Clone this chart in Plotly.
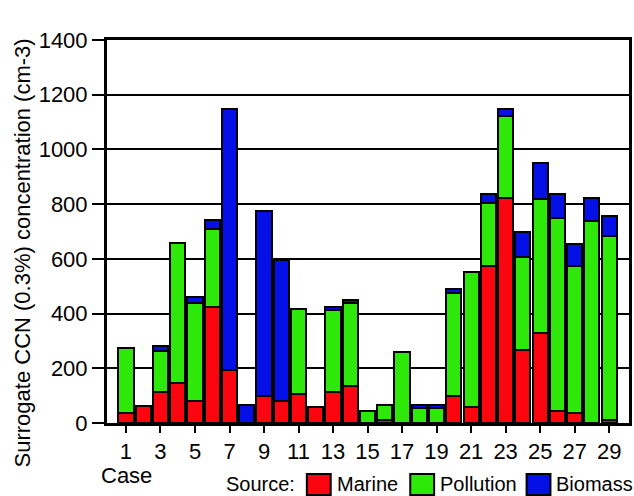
import plotly.graph_objects as go

cases = list(range(1, 30))
marine = [35, 62, 115, 145, 82, 425, 194, 0, 99, 82, 106, 57, 115, 135, 0,
          10, 0, 0, 0, 99, 60, 574, 821, 267, 328, 44, 35, 0, 10]
pollution = [238, 0, 150, 512, 358, 283, 0, 0, 0, 0, 309, 0, 298, 305, 44,
             56, 258, 54, 54, 377, 491, 231, 302, 338, 490, 704, 539, 739, 673]
biomass = [0, 0, 18, 0, 22, 34, 952, 66, 676, 514, 0, 0, 12, 10, 0,
           0, 0, 12, 12, 13, 0, 32, 23, 94, 131, 89, 79, 82, 74]

series_names = ["Marine", "Pollution", "Biomass"]
series_colors = ["#fa0510", "#2ee80a", "#0510e6"]
series_values = [marine, pollution, biomass]

x_ticks = list(range(1, 30, 2))
y_ticks = list(range(0, 1401, 200))

FONT = "Liberation Sans, Arial, sans-serif"

fig = go.Figure()
for name, color, vals in zip(series_names, series_colors, series_values):
    fig.add_trace(go.Bar(
        x=cases, y=vals, name=name,
        marker=dict(color=color, line=dict(color="black", width=2)),
        width=0.88, showlegend=False,
    ))

W, H = 634, 496
L, R, T, B = 107, 2, 40, 73
pw, ph = W - L - R, H - T - B

def px(xp):
    return (xp - L) / pw

def py(yp):
    return (H - B - yp) / ph

fig.update_layout(
    barmode="stack",
    width=W, height=H,
    margin=dict(l=L, r=R, t=T, b=B, pad=0),
    paper_bgcolor="white", plot_bgcolor="white",
    font=dict(family=FONT, color="black", size=22),
    bargap=0.1,
)
fig.update_xaxes(
    range=[-0.1, 30.15], tickvals=x_ticks, ticktext=[str(v) for v in x_ticks],
    showgrid=False, zeroline=False,
    showline=True, linecolor="black", linewidth=3, mirror=True,
    ticks="outside", ticklen=7, tickwidth=2, tickcolor="black",
    tickfont=dict(size=22, family=FONT),
)
fig.update_yaxes(
    range=[0, 1400], tickvals=y_ticks,
    showgrid=True, gridcolor="black", gridwidth=1.5, zeroline=False,
    showline=True, linecolor="black", linewidth=3, mirror=True,
    ticks="outside", ticklen=12, tickwidth=2, tickcolor="black",
    tickfont=dict(size=22, family=FONT),
)

ann = []
ann.append(dict(text="Surrogate CCN (0.3%) concentration (cm-3)", textangle=-90,
                xref="paper", yref="paper", x=px(22), y=py(253),
                xanchor="center", yanchor="middle", showarrow=False,
                font=dict(size=22, family=FONT)))
ann.append(dict(text="Case", xref="paper", yref="paper", x=px(99), y=py(476),
                xanchor="left", yanchor="middle", showarrow=False,
                font=dict(size=22, family=FONT)))
ann.append(dict(text="Source:", xref="paper", yref="paper", x=px(298), y=py(484),
                xanchor="right", yanchor="middle", showarrow=False,
                font=dict(size=20, family=FONT)))

shapes = []
sw_x = [308, 412, 529]
for name, color, sx in zip(series_names, series_colors, sw_x):
    shapes.append(dict(type="rect", xref="paper", yref="paper",
                       x0=px(sx), x1=px(sx + 24), y0=py(495), y1=py(474),
                       fillcolor=color, line=dict(color="black", width=2)))
    ann.append(dict(text=name, xref="paper", yref="paper", x=px(sx + 28), y=py(484),
                    xanchor="left", yanchor="middle", showarrow=False,
                    font=dict(size=20, family=FONT)))

fig.update_layout(annotations=ann, shapes=shapes)
fig.write_html(
    "out.html",
    config={"displayModeBar": False},
    post_script="document.body.style.margin='0';document.body.style.overflow='hidden';",
)
